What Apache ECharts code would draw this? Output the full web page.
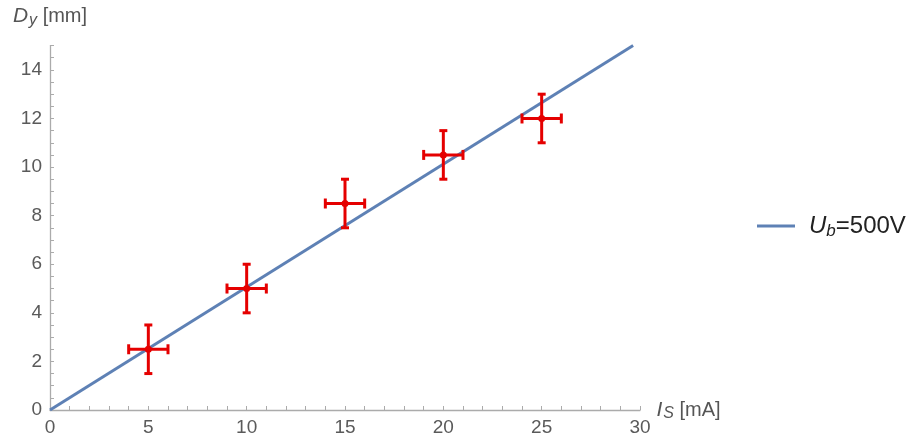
<!DOCTYPE html>
<html>
<head>
<meta charset="utf-8">
<script src="https://cdn.jsdelivr.net/npm/echarts@6/dist/echarts.min.js"></script>
<style>
  html, body { margin: 0; padding: 0; background: #fff; }
  #main { width: 910px; height: 437px; }
</style>
</head>
<body>
<div id="main"></div>
<script>
// measured points: I_S [mA] vs D_y [mm], with +-1 errors both ways
var current = [5, 10, 15, 20, 25];
var deflect = [2.5, 5, 8.5, 10.5, 12];
var errX = [1, 1, 1, 1, 1];
var errY = [1, 1, 1, 1, 1];

// fitted line U_b = 500V (end points)
var fitX = [0, 29.65];
var fitY = [0, 15];

var seriesName = 'U_b=500V';
var axisGray = '#ababab';
var labelGray = '#5a5a5a';
var font = '"Liberation Sans", Arial, sans-serif';

var chart = echarts.init(document.getElementById('main'));

var errData = [];
for (var i = 0; i < current.length; i++) {
  errData.push([current[i], deflect[i], errX[i], errY[i]]);
}
var fitData = [];
for (var j = 0; j < fitX.length; j++) {
  fitData.push([fitX[j], fitY[j]]);
}

function renderErr(params, api) {
  var x = api.value(0), y = api.value(1), ex = api.value(2), ey = api.value(3);
  var c = api.coord([x, y]);
  var l = api.coord([x - ex, y]);
  var r = api.coord([x + ex, y]);
  var t = api.coord([x, y + ey]);
  var b = api.coord([x, y - ey]);
  var st = { stroke: '#e50000', lineWidth: 3 };
  var cap = 5;
  return {
    type: 'group',
    children: [
      { type: 'line', shape: { x1: l[0], y1: l[1], x2: r[0], y2: r[1] }, style: st },
      { type: 'line', shape: { x1: t[0], y1: t[1], x2: b[0], y2: b[1] }, style: st },
      { type: 'line', shape: { x1: l[0], y1: l[1] - cap, x2: l[0], y2: l[1] + cap }, style: st },
      { type: 'line', shape: { x1: r[0], y1: r[1] - cap, x2: r[0], y2: r[1] + cap }, style: st },
      { type: 'line', shape: { x1: t[0] - 4, y1: t[1], x2: t[0] + 4, y2: t[1] }, style: st },
      { type: 'line', shape: { x1: b[0] - 4, y1: b[1], x2: b[0] + 4, y2: b[1] }, style: st },
      { type: 'circle', shape: { cx: c[0], cy: c[1], r: 3.5 }, style: { fill: '#e50000' } }
    ]
  };
}

chart.setOption({
  backgroundColor: '#fff',
  animation: false,
  textStyle: { fontFamily: font },
  grid: { left: 50, right: 270, top: 45.6, bottom: 25.3, containLabel: false },
  legend: {
    data: [{ name: seriesName, icon: 'rect' }],
    orient: 'vertical',
    left: 752,
    top: 209,
    itemWidth: 38,
    itemHeight: 3,
    formatter: function () { return '{p|}{u|U}{s|b}{n|=500V}'; },
    textStyle: {
      color: '#222',
      rich: {
        p: { width: 9 },
        u: { fontSize: 24, fontStyle: 'italic', fontFamily: font, color: '#222' },
        s: { fontSize: 17, fontStyle: 'italic', fontFamily: font, color: '#222', padding: [10, 0, 0, 0] },
        n: { fontSize: 24, fontFamily: font, color: '#222' }
      }
    }
  },
  xAxis: {
    type: 'value',
    min: 0,
    max: 30,
    interval: 1,
    name: '{i|I}{s|S}{n| [mA]}',
    nameLocation: 'end',
    nameGap: 14,
    nameTextStyle: {
      rich: {
        i: { fontSize: 21, fontStyle: 'italic', color: '#555', fontFamily: font },
        s: { fontSize: 16, fontStyle: 'italic', color: '#555', fontFamily: font, padding: [8, 0, 0, 1] },
        n: { fontSize: 20, color: '#555', fontFamily: font }
      }
    },
    axisLine: { onZero: false, lineStyle: { color: axisGray, width: 1.3 } },
    axisTick: { inside: true, length: 4, lineStyle: { color: axisGray } },
    splitLine: { show: false },
    axisLabel: {
      color: labelGray,
      fontSize: 19,
      fontFamily: font,
      margin: 8,
      formatter: function (v) { return v % 5 === 0 ? String(v) : ''; }
    }
  },
  yAxis: {
    type: 'value',
    min: 0,
    max: 15,
    interval: 0.5,
    name: '{i|D}{s|y}{n| [mm]}',
    nameLocation: 'end',
    nameGap: 17,
    nameTextStyle: {
      align: 'center',
      rich: {
        i: { fontSize: 21, fontStyle: 'italic', color: '#555', fontFamily: font },
        s: { fontSize: 16, fontStyle: 'italic', color: '#555', fontFamily: font, padding: [8, 0, 0, 1] },
        n: { fontSize: 20, color: '#555', fontFamily: font }
      }
    },
    axisLine: { show: true, onZero: false, lineStyle: { color: axisGray, width: 1.3 } },
    axisTick: { show: true, inside: true, length: 4, lineStyle: { color: axisGray } },
    splitLine: { show: false },
    axisLabel: {
      color: labelGray,
      fontSize: 19,
      fontFamily: font,
      margin: 8,
      formatter: function (v) { return (v % 2 === 0 && v < 15) ? String(v) : ''; }
    }
  },
  series: [
    {
      name: seriesName,
      type: 'line',
      data: fitData,
      symbol: 'none',
      lineStyle: { color: '#5e81b5', width: 3 },
      itemStyle: { color: '#5e81b5' },
      z: 2
    },
    {
      name: 'data',
      type: 'custom',
      data: errData,
      renderItem: renderErr,
      encode: { x: 0, y: 1 },
      z: 3
    }
  ]
});
</script>
</body>
</html>
